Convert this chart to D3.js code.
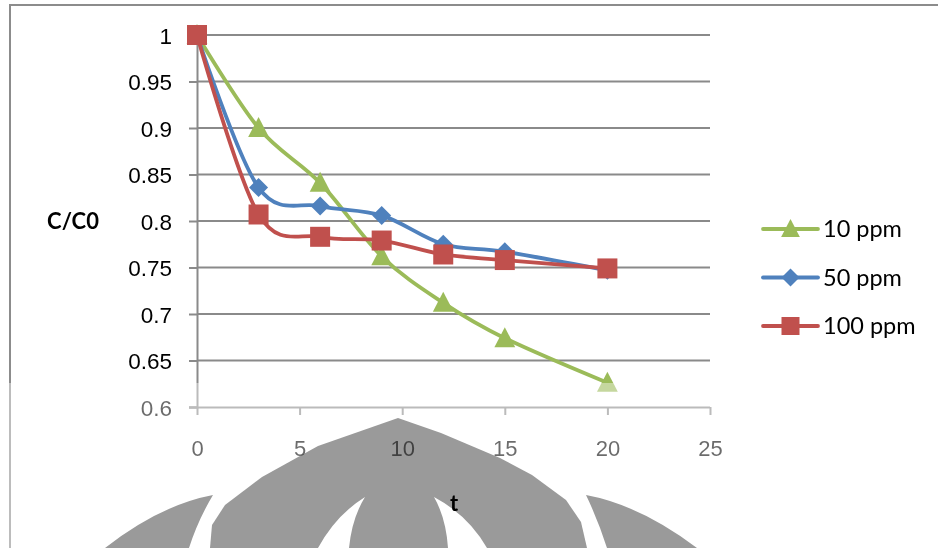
<!DOCTYPE html>
<html>
<head>
<meta charset="utf-8">
<script src="https://cdn.jsdelivr.net/npm/d3@7"></script>
<style>
  body { margin: 0; background: #fff; }
  svg { display: block; font-family: Lato, "Open Sans", sans-serif; }
</style>
</head>
<body>
<svg id="chart" width="938" height="548"></svg>
<script>
// data
const times = [0, 3, 6, 9, 12, 15, 20];
const seriesNames = ["10 ppm", "50 ppm", "100 ppm"];
const ppm10 = [1, 0.900, 0.841, 0.762, 0.712, 0.674, 0.626];
const ppm50 = [1, 0.836, 0.816, 0.806, 0.775, 0.767, 0.747];
const ppm100 = [1, 0.807, 0.783, 0.779, 0.764, 0.758, 0.749];
const xTicks = [0, 5, 10, 15, 20, 25];
const yTicks = [0.6, 0.65, 0.7, 0.75, 0.8, 0.85, 0.9, 0.95, 1];
const yTickLabels = ["0.6", "0.65", "0.7", "0.75", "0.8", "0.85", "0.9", "0.95", "1"];

const colors = ["#9bbb59", "#4f81bd", "#c0504d"];
const markers = ["triangle", "diamond", "square"];
const values = [ppm10, ppm50, ppm100];

const svg = d3.select("#chart");
const grid = "#8a8a8a";

const x = d3.scaleLinear().domain([0, 25]).range([197, 710]);
const y = d3.scaleLinear().domain([0.6, 1]).range([407, 35]);

// outer frame (only top and left edges are visible)
svg.append("path")
  .attr("d", "M10,548 L10,5 L938,5")
  .attr("fill", "none")
  .attr("stroke", "#8c8c8c")
  .attr("stroke-width", 2);

// gridlines
svg.append("g")
  .selectAll("line")
  .data(yTicks.slice(1))
  .join("line")
  .attr("x1", x(0)).attr("x2", x(25))
  .attr("y1", d => y(d)).attr("y2", d => y(d))
  .attr("stroke", grid)
  .attr("stroke-width", 2);

// y axis
const yAxis = svg.append("g")
  .attr("transform", `translate(${x(0)},0)`)
  .call(d3.axisLeft(y).tickValues(yTicks).tickSize(8).tickPadding(17)
    .tickFormat((d, i) => yTickLabels[i]));
yAxis.select(".domain").attr("stroke", grid).attr("stroke-width", 2);
yAxis.selectAll(".tick line").attr("stroke", grid).attr("stroke-width", 2);
yAxis.selectAll(".tick text")
  .attr("fill", "#000")
  .style("font-size", "22.5px")
  .attr("dy", "0.36em");

// x axis
const xAxis = svg.append("g")
  .attr("transform", `translate(0,${y(0.6)})`)
  .call(d3.axisBottom(x).tickValues(xTicks).tickSize(8).tickPadding(25)
    .tickFormat(d3.format("d")));
xAxis.select(".domain").attr("stroke", grid).attr("stroke-width", 2)
  .attr("d", `M${x(0) - 8},0.5H${x(25)}`);
xAxis.selectAll(".tick line").attr("stroke", grid).attr("stroke-width", 2);
xAxis.selectAll(".tick text")
  .attr("fill", "#000")
  .style("font-size", "22px");

// axis titles
svg.append("text")
  .attr("x", 73).attr("y", y(0.8))
  .attr("dy", "0.36em")
  .attr("text-anchor", "middle")
  .style("font-size", "22px")
  .style("font-weight", "bold")
  .text("C/C0");

// markers
function marker(sel, type, color, s) {
  if (type === "triangle") {
    sel.append("path").attr("d", `M0,${-s * 0.55}L${s * 0.52},${s * 0.45}L${-s * 0.52},${s * 0.45}Z`)
      .attr("fill", color);
  } else if (type === "diamond") {
    const h = s * 0.5;
    sel.append("path").attr("d", `M0,${-h}L${h},0L0,${h}L${-h},0Z`).attr("fill", color);
  } else {
    const h = s * 0.5;
    sel.append("rect").attr("x", -h).attr("y", -h).attr("width", 2 * h).attr("height", 2 * h)
      .attr("fill", color);
  }
}

const line = d3.line()
  .x(d => x(d[0]))
  .y(d => y(d[1]))
  .curve(d3.curveCatmullRom.alpha(0));

const sizes = [20, 19, 20];

values.forEach((vals, i) => {
  const pts = times.map((t, j) => [t, vals[j]]);
  const g = svg.append("g");
  g.append("path")
    .attr("d", line(pts))
    .attr("fill", "none")
    .attr("stroke", colors[i])
    .attr("stroke-width", 3.8)
    .attr("stroke-linejoin", "round");
  g.selectAll(".m")
    .data(pts)
    .join("g")
    .attr("class", "m")
    .attr("transform", d => `translate(${x(d[0])},${y(d[1])})`)
    .each(function () { marker(d3.select(this), markers[i], colors[i], sizes[i]); });
});

// legend
const legend = svg.append("g");
seriesNames.forEach((name, i) => {
  const ly = 229 + i * 48.5;
  legend.append("line")
    .attr("x1", 763).attr("x2", 818)
    .attr("y1", ly).attr("y2", ly)
    .attr("stroke", colors[i])
    .attr("stroke-width", 3.8)
    .attr("stroke-linecap", "round");
  const mg = legend.append("g").attr("transform", `translate(790.5,${ly})`);
  marker(mg, markers[i], colors[i], 18);
  legend.append("text")
    .attr("x", 823).attr("y", ly)
    .attr("dy", "0.36em")
    .style("font-size", "23.5px")
    .text(name);
});

// faded band at the bottom of the scanned page
svg.append("rect")
  .attr("x", 0).attr("y", 383)
  .attr("width", 938).attr("height", 165)
  .attr("fill", "#fff")
  .attr("opacity", 0.42);

// watermark logo
const wm = svg.append("g").style("mix-blend-mode", "multiply");
const wmFill = "#9a9a9a";
const arch = d3.line();
wm.append("path")
  .attr("d", arch([[210, 548], [212, 525], [225, 505], [262, 477], [318, 446], [398, 418],
    [441, 433], [500, 458], [532, 475], [566, 500], [581, 522], [587, 548]]) + "Z")
  .attr("fill", wmFill);
wm.append("path")
  .attr("d", "M365,497 Q336,515 318,548 L349,548 Q352,518 365,497 Z")
  .attr("fill", "#fff");
wm.append("path")
  .attr("d", "M434,497 Q468,515 487,548 L448,548 Q446,518 434,497 Z")
  .attr("fill", "#fff");
wm.append("path")
  .attr("d", "M213,495 Q160,505 105,548 L189,548 Q198,520 213,495 Z")
  .attr("fill", wmFill);
wm.append("path")
  .attr("d", "M586,495 Q640,505 697,548 L607,548 Q598,520 586,495 Z")
  .attr("fill", wmFill);

svg.append("text")
  .attr("x", 454).attr("y", 503)
  .attr("dy", "0.36em")
  .attr("text-anchor", "middle")
  .style("font-size", "22px")
  .style("font-weight", "bold")
  .text("t");
</script>
</body>
</html>
